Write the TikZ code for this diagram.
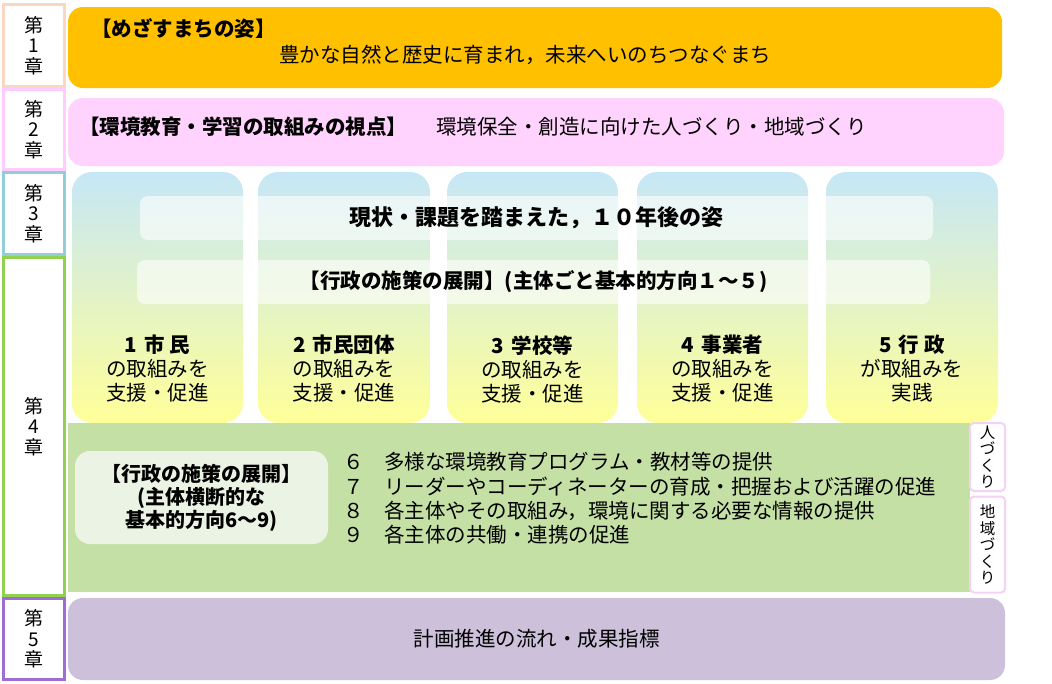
\documentclass[tikz,border=0pt]{standalone}
\usepackage{fontspec}
\setmainfont{Noto Sans CJK JP}
\usetikzlibrary{calc}
\definecolor{chapone}{RGB}{249,215,192}
\definecolor{chaptwo}{RGB}{255,204,255}
\definecolor{chapthree}{RGB}{146,205,220}
\definecolor{chapfour}{RGB}{146,208,80}
\definecolor{chapfive}{RGB}{160,110,210}
\definecolor{amber}{RGB}{255,192,0}
\definecolor{blush}{RGB}{255,211,253}
\definecolor{skytop}{RGB}{198,231,246}
\definecolor{skymid}{RGB}{246,252,182}
\definecolor{lemon}{RGB}{255,255,153}
\definecolor{leaf}{RGB}{197,224,165}
\definecolor{paleleaf}{RGB}{235,243,228}
\definecolor{lilac}{RGB}{204,192,218}
\definecolor{vpink}{RGB}{244,210,244}
\tikzset{
  chap/.style={draw, line width=3pt, fill=white, minimum width=61, inner sep=0pt, align=center, font=\fontsize{19}{20.5}\selectfont},
  band/.style={rounded corners=15pt, inner sep=0pt},
  txt/.style={inner sep=0pt, font=\fontsize{20.5}{24}\selectfont},
  bold/.style={inner sep=0pt, font=\fontsize{20.5}{24}\selectfont\bfseries},
  glass/.style={fill=white, fill opacity=0.6, text opacity=1, rounded corners=8pt, inner sep=0pt},
  vbox/.style={draw=vpink, line width=2pt, fill=white, rounded corners=4pt, minimum width=35, inner sep=0pt, align=center, font=\fontsize{15.5}{16.5}\selectfont}
}
\newcommand{\chapnode}[5]{\node[chap, draw=#4, minimum height={#3-#2-3}] (#1) at (34,{(#2+#3)/2}) {第\\#5\\章};}
\newcommand{\colbox}[5]{%
  \shade[top color=skytop, middle color=skymid, bottom color=lemon, rounded corners=20pt] (#2,172) rectangle (#3,423);
  \node[txt, align=center] (#1) at ({(#2+#3)/2},369) {{\bfseries #4}\\#5};}

\begin{document}
\begin{tikzpicture}[x=1pt, y=-1pt]
    \useasboundingbox (0,0) rectangle (1052,683);

    %chapter labels
    \chapnode{chap1}{3}{88}{chapone}{1}
    \chapnode{chap2}{88}{171}{chaptwo}{2}
    \chapnode{chap3}{171}{256}{chapthree}{3}
    \chapnode{chap4}{256}{597}{chapfour}{4}
    \chapnode{chap5}{597}{681}{chapfive}{5}

    %chapter 1 and 2
    \node[band, fill=amber, minimum width=934, minimum height=81] (vision) at (535,47.5) {};
    \node[bold, anchor=west] (visiontitle) at (91,28) {【めざすまちの姿】};
    \node[txt] (visiontext) at (525,55) {豊かな自然と歴史に育まれ，未来へいのちつなぐまち};
    \node[band, fill=blush, minimum width=936, minimum height=68] (view) at (536,132) {};
    \node[bold, anchor=west] (viewtitle) at (79,127) {【環境教育・学習の取組みの視点】};
    \node[txt, anchor=west] (viewtext) at (436,127) {環境保全・創造に向けた人づくり・地域づくり};

    %columns
    \colbox{col1}{72}{243}{1\hspace{0.35em}市 民}{の取組みを\\支援・促進}
    \colbox{col2}{258}{430}{2\hspace{0.35em}市民団体}{の取組みを\\支援・促進}
    \colbox{col3}{447}{618}{3\hspace{0.35em}学校等}{の取組みを\\支援・促進}
    \colbox{col4}{637}{808}{4\hspace{0.35em}事業者}{の取組みを\\支援・促進}
    \colbox{col5}{826}{998}{5\hspace{0.35em}行 政}{が取組みを\\実践}
    \node[glass, minimum width=793, minimum height=44, font=\fontsize{22}{24}\selectfont\bfseries] (future) at (536.5,218) {現状・課題を踏まえた，１０年後の姿};
    \node[glass, minimum width=793, minimum height=44, font=\fontsize{20.5}{24}\selectfont\bfseries] (measures) at (533.5,282) {【行政の施策の展開】(主体ごと基本的方向１～５)};

    %chapter 4 cross-cutting
    \fill[leaf] (68,423) rectangle (970,592);
    \node[band, fill=paleleaf, minimum width=253, minimum height=93, align=center, font=\fontsize{20}{23}\selectfont\bfseries] (cross) at (201.5,497.5) {【行政の施策の展開】\\(主体横断的な\\基本的方向6～9)};
    \node[txt, align=left, anchor=west, font=\fontsize{20.5}{24.3}\selectfont] (items) at (343,498.5) {６　多様な環境教育プログラム・教材等の提供\\７　リーダーやコーディネーターの育成・把握および活躍の促進\\８　各主体やその取組み，環境に関する必要な情報の提供\\９　各主体の共働・連携の促進};
    \node[vbox, minimum height=68] (hito) at (987.5,457) {人\\づ\\く\\り};
    \node[vbox, minimum height=96] (chiiki) at (987.5,544.5) {地\\域\\づ\\く\\り};

    %chapter 5
    \node[band, fill=lilac, minimum width=937, minimum height=82, font=\fontsize{20.5}{24}\selectfont] (plan) at (536.5,639) {計画推進の流れ・成果指標};
\end{tikzpicture}
\end{document}
